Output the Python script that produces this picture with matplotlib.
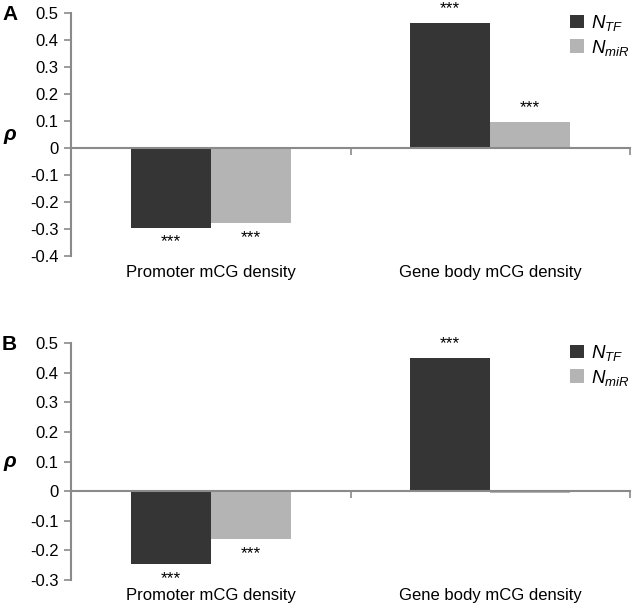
import matplotlib
matplotlib.use("Agg")
import matplotlib.pyplot as plt
import numpy as np

plt.rcParams['font.family'] = ['Liberation Sans', 'DejaVu Sans']
plt.rcParams['mathtext.fontset'] = 'custom'
plt.rcParams['mathtext.it'] = 'Liberation Sans:italic'
plt.rcParams['mathtext.rm'] = 'Liberation Sans'

categories = ["Promoter mCG density", "Gene body mCG density"]
series_names = [r"$N_{TF}$", r"$N_{miR}$"]
a_tf = [-0.295, 0.462]
a_mir = [-0.278, 0.095]
b_tf = [-0.245, 0.448]
b_mir = [-0.162, -0.008]
a_sig_tf = ["***", "***"]
a_sig_mir = ["***", "***"]
b_sig_tf = ["***", "***"]
b_sig_mir = ["***", ""]
a_yticks = [0.5, 0.4, 0.3, 0.2, 0.1, 0, -0.1, -0.2, -0.3, -0.4]
b_yticks = [0.5, 0.4, 0.3, 0.2, 0.1, 0, -0.1, -0.2, -0.3]

dark = "#353535"
light = "#b4b4b4"
axcol = "#8a8a8a"

W, H = 633, 612
fig = plt.figure(figsize=(W / 100, H / 100), dpi=100)

def panel(rect, tf, mir, sig_tf, sig_mir, yticks):
    ax = fig.add_axes(rect)
    x = np.arange(len(categories))
    w = 0.286
    ax.bar(x - w / 2, tf, w, color=dark, label=series_names[0])
    ax.bar(x + w / 2, mir, w, color=light, label=series_names[1])
    ax.set_xlim(-0.5, 1.5)
    ax.set_ylim(min(yticks), max(yticks))
    ax.set_yticks(yticks)
    ax.set_yticklabels([("%g" % t) for t in yticks], fontsize=12)
    for s in ["top", "right"]:
        ax.spines[s].set_visible(False)
    ax.spines["left"].set_color(axcol)
    ax.spines["left"].set_linewidth(1.5)
    ax.spines["bottom"].set_position(("data", 0))
    ax.spines["bottom"].set_color(axcol)
    ax.spines["bottom"].set_linewidth(1.5)
    ax.set_xticks([0.5, 1.5])
    ax.set_xticklabels([])
    ax.tick_params(axis="x", length=5, width=1.2, color=axcol, direction="out")
    ax.tick_params(axis="y", length=5, width=1.2, color=axcol, direction="out", pad=4)
    for i, c in enumerate(categories):
        ax.text(i, -0.035, c, transform=ax.get_xaxis_transform(), ha="center",
                va="top", fontsize=12)
    for i in range(len(categories)):
        for v, s, dx in ((tf[i], sig_tf[i], -w / 2), (mir[i], sig_mir[i], w / 2)):
            if not s:
                continue
            if v >= 0:
                ax.annotate(s, (i + dx, v), xytext=(0, 5), textcoords="offset points",
                            ha="center", va="bottom", fontsize=12.5)
            else:
                ax.annotate(s, (i + dx, v), xytext=(0, -5), textcoords="offset points",
                            ha="center", va="top", fontsize=12.5)
    ax.set_ylabel("ρ", rotation=0, fontsize=15, fontweight="bold", fontstyle="italic",
                  va="center", ha="center")
    ax.yaxis.set_label_coords(-0.11, 0.5)
    ax.legend(loc="upper left", bbox_to_anchor=(0.893, 1.0), frameon=False,
              fontsize=13.5, handlelength=0.75, handleheight=0.75,
              handletextpad=0.35, labelspacing=0.25, borderpad=0, borderaxespad=0)
    return ax

axA = panel([71 / W, 1 - 256 / H, 559 / W, 243 / H], a_tf, a_mir, a_sig_tf, a_sig_mir, a_yticks)
axB = panel([71 / W, 1 - 580 / H, 559 / W, 237 / H], b_tf, b_mir, b_sig_tf, b_sig_mir, b_yticks)
fig.text(2 / W, 1 - 14 / H, "A", fontsize=15, fontweight="bold", va="center", ha="left")
fig.text(2 / W, 1 - 344 / H, "B", fontsize=15, fontweight="bold", va="center", ha="left")

fig.savefig("out.png", dpi=100)
